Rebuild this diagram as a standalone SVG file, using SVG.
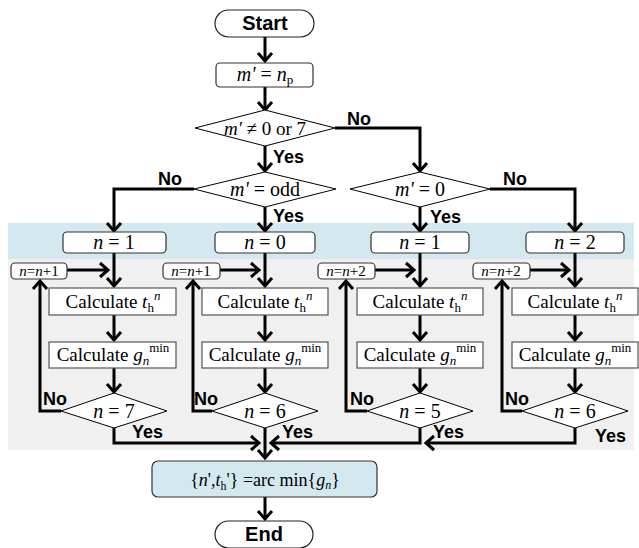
<svg xmlns="http://www.w3.org/2000/svg" width="639" height="548" viewBox="0 0 639 548">
<style>
.t{font-family:"Liberation Serif","Times New Roman",serif;fill:#000;text-anchor:middle}
.i{font-style:italic}
.lb{font-family:"Liberation Sans",Arial,sans-serif;font-weight:bold;font-size:18px;fill:#000}
.pill{fill:#fff;stroke:#222;stroke-width:1.2}
.rb{fill:#fff;stroke:#333;stroke-width:1.2}
.cb{fill:#fff;stroke:#555;stroke-width:1.2}
.dm{fill:#fff;stroke:#000;stroke-width:1}
.cn{fill:none;stroke:#000;stroke-width:3;marker-end:url(#ah)}
</style>
<defs>
<marker id="ah" markerUnits="userSpaceOnUse" markerWidth="20" markerHeight="20" viewBox="-10 -10 20 20" refX="0" refY="0" orient="auto" overflow="visible">
<path d="M-8,-7 L0,0 L-8,7" fill="none" stroke="#000" stroke-width="3"/>
</marker>
</defs>
<rect x="0" y="0" width="639" height="548" fill="#fff"/>
<rect id="band-blue" x="8" y="223" width="626" height="36" fill="#d3e9ef"/>
<rect id="band-gray" x="8" y="259" width="626" height="191" fill="#f0f0f0"/>

<g id="connectors">
<path class="cn" d="M265,37 V61"/>
<path class="cn" d="M265,87 V110"/>
<path class="cn" d="M265,146 V171"/>
<path class="cn" d="M335,128 H420 V171"/>
<path class="cn" d="M194,189 H114 V231"/>
<path class="cn" d="M265,207 V231"/>
<path class="cn" d="M420,207 V231"/>
<path class="cn" d="M490,189 H575 V231"/>
<path class="cn" d="M114,253 V286"/>
<path class="cn" d="M265,253 V286"/>
<path class="cn" d="M420,253 V286"/>
<path class="cn" d="M575,253 V286"/>
<path class="cn" d="M67,270 H108"/>
<path class="cn" d="M220,270 H259"/>
<path class="cn" d="M375,270 H414"/>
<path class="cn" d="M530,270 H569"/>
<path class="cn" d="M114,315 V340"/>
<path class="cn" d="M265,315 V340"/>
<path class="cn" d="M420,315 V340"/>
<path class="cn" d="M575,315 V340"/>
<path class="cn" d="M114,368 V392"/>
<path class="cn" d="M265,368 V392"/>
<path class="cn" d="M420,368 V392"/>
<path class="cn" d="M575,368 V392"/>
<path class="cn" d="M61,411 H40 V281"/>
<path class="cn" d="M212,411 H193 V281"/>
<path class="cn" d="M367,411 H346 V281"/>
<path class="cn" d="M522,411 H502 V281"/>
<path class="cn" d="M114,428 V443 H259"/>
<path class="cn" d="M265,428 V458"/>
<path class="cn" d="M420,428 V443 H271"/>
<path class="cn" d="M575,428 V443 H426"/>
<path class="cn" d="M265,497 V519"/>
</g>

<g id="start">
<rect class="pill" x="215" y="10" width="99" height="27" rx="13.5"/>
<text class="lb" x="265" y="30" text-anchor="middle" style="font-size:20px">Start</text>
</g>
<g id="assign">
<rect class="rb" x="216" y="63" width="97" height="24" rx="4"/>
<text class="t" x="265" y="81" font-size="20"><tspan class="i">m'</tspan> = <tspan class="i">n</tspan><tspan font-size="13" dy="3">p</tspan></text>
</g>
<g id="dec1">
<polygon class="dm" points="195,128 265,110 335,128 265,146"/>
<text class="t" x="265" y="135" font-size="19"><tspan class="i">m'</tspan> ≠ 0 or 7</text>
</g>
<g id="dec2">
<polygon class="dm" points="194,189 265,172 336,189 265,207"/>
<text class="t" x="265" y="196" font-size="20"><tspan class="i">m'</tspan> = odd</text>
</g>
<g id="dec3">
<polygon class="dm" points="350,189 420,172 490,189 420,207"/>
<text class="t" x="420" y="196" font-size="20"><tspan class="i">m'</tspan> = 0</text>
</g>

<g id="init1"><rect class="rb" x="63" y="232" width="103" height="21" rx="4"/><text class="t" x="114" y="249" font-size="20"><tspan class="i">n</tspan> = 1</text></g>
<g id="init2"><rect class="rb" x="215" y="232" width="100" height="21" rx="4"/><text class="t" x="265" y="249" font-size="20"><tspan class="i">n</tspan> = 0</text></g>
<g id="init3"><rect class="rb" x="371" y="232" width="98" height="21" rx="4"/><text class="t" x="420" y="249" font-size="20"><tspan class="i">n</tspan> = 1</text></g>
<g id="init4"><rect class="rb" x="526" y="232" width="98" height="21" rx="4"/><text class="t" x="575" y="249" font-size="20"><tspan class="i">n</tspan> = 2</text></g>

<g id="inc1"><rect class="rb" x="11" y="263" width="56" height="16" rx="4"/><text class="t" x="39" y="276" font-size="15"><tspan class="i">n</tspan>=<tspan class="i">n</tspan>+1</text></g>
<g id="inc2"><rect class="rb" x="163" y="263" width="57" height="16" rx="4"/><text class="t" x="191" y="276" font-size="15"><tspan class="i">n</tspan>=<tspan class="i">n</tspan>+1</text></g>
<g id="inc3"><rect class="rb" x="318" y="263" width="57" height="16" rx="4"/><text class="t" x="346" y="276" font-size="15"><tspan class="i">n</tspan>=<tspan class="i">n</tspan>+2</text></g>
<g id="inc4"><rect class="rb" x="473" y="263" width="57" height="16" rx="4"/><text class="t" x="501" y="276" font-size="15"><tspan class="i">n</tspan>=<tspan class="i">n</tspan>+2</text></g>

<g id="calct1"><rect class="cb" x="49" y="288" width="127" height="27"/><text class="t" x="113" y="308" font-size="19">Calculate <tspan class="i">t</tspan><tspan font-size="13" dy="4">h</tspan><tspan class="i" font-size="13" dy="-12">n</tspan></text></g>
<g id="calct2"><rect class="cb" x="202" y="288" width="126" height="27"/><text class="t" x="265" y="308" font-size="19">Calculate <tspan class="i">t</tspan><tspan font-size="13" dy="4">h</tspan><tspan class="i" font-size="13" dy="-12">n</tspan></text></g>
<g id="calct3"><rect class="cb" x="357" y="288" width="126" height="27"/><text class="t" x="420" y="308" font-size="19">Calculate <tspan class="i">t</tspan><tspan font-size="13" dy="4">h</tspan><tspan class="i" font-size="13" dy="-12">n</tspan></text></g>
<g id="calct4"><rect class="cb" x="512" y="288" width="126" height="27"/><text class="t" x="575" y="308" font-size="19">Calculate <tspan class="i">t</tspan><tspan font-size="13" dy="4">h</tspan><tspan class="i" font-size="13" dy="-12">n</tspan></text></g>

<g id="calcg1"><rect class="cb" x="49" y="342" width="127" height="26"/><text class="t" x="113" y="361" font-size="19">Calculate <tspan class="i">g</tspan><tspan class="i" font-size="13" dy="4">n</tspan><tspan font-size="13" dy="-13">min</tspan></text></g>
<g id="calcg2"><rect class="cb" x="202" y="342" width="126" height="26"/><text class="t" x="265" y="361" font-size="19">Calculate <tspan class="i">g</tspan><tspan class="i" font-size="13" dy="4">n</tspan><tspan font-size="13" dy="-13">min</tspan></text></g>
<g id="calcg3"><rect class="cb" x="357" y="342" width="126" height="26"/><text class="t" x="420" y="361" font-size="19">Calculate <tspan class="i">g</tspan><tspan class="i" font-size="13" dy="4">n</tspan><tspan font-size="13" dy="-13">min</tspan></text></g>
<g id="calcg4"><rect class="cb" x="512" y="342" width="126" height="26"/><text class="t" x="575" y="361" font-size="19">Calculate <tspan class="i">g</tspan><tspan class="i" font-size="13" dy="4">n</tspan><tspan font-size="13" dy="-13">min</tspan></text></g>

<g id="chk1"><polygon class="dm" points="61,411 114,393 167,411 114,428"/><text class="t" x="114" y="418" font-size="20"><tspan class="i">n</tspan> = 7</text></g>
<g id="chk2"><polygon class="dm" points="212,411 265,393 318,411 265,428"/><text class="t" x="265" y="418" font-size="20"><tspan class="i">n</tspan> = 6</text></g>
<g id="chk3"><polygon class="dm" points="367,411 420,393 473,411 420,428"/><text class="t" x="420" y="418" font-size="20"><tspan class="i">n</tspan> = 5</text></g>
<g id="chk4"><polygon class="dm" points="522,411 575,393 628,411 575,428"/><text class="t" x="575" y="418" font-size="20"><tspan class="i">n</tspan> = 6</text></g>

<g id="result">
<rect x="152" y="461" width="225" height="36" rx="6" fill="#d3e9ef" stroke="#333" stroke-width="1.2"/>
<text class="t" x="265" y="486" font-size="18">{<tspan class="i">n</tspan>',<tspan class="i">t</tspan><tspan font-size="12" dy="4">h</tspan><tspan dy="-4">'} =arc min{</tspan><tspan class="i">g</tspan><tspan class="i" font-size="12" dy="3">n</tspan><tspan dy="-3">}</tspan></text>
</g>
<g id="end">
<rect class="pill" x="215" y="521" width="98" height="27" rx="13.5"/>
<text class="lb" x="264" y="541" text-anchor="middle" style="font-size:20px">End</text>
</g>

<g id="labels">
<text class="lb" x="347" y="125">No</text>
<text class="lb" x="273" y="163">Yes</text>
<text class="lb" x="158" y="185">No</text>
<text class="lb" x="273" y="222">Yes</text>
<text class="lb" x="430" y="223">Yes</text>
<text class="lb" x="503" y="185">No</text>
<text class="lb" x="43" y="405">No</text>
<text class="lb" x="194" y="405">No</text>
<text class="lb" x="350" y="405">No</text>
<text class="lb" x="505" y="405">No</text>
<text class="lb" x="132" y="438">Yes</text>
<text class="lb" x="282" y="438">Yes</text>
<text class="lb" x="433" y="438">Yes</text>
<text class="lb" x="595" y="442">Yes</text>
</g>
</svg>
